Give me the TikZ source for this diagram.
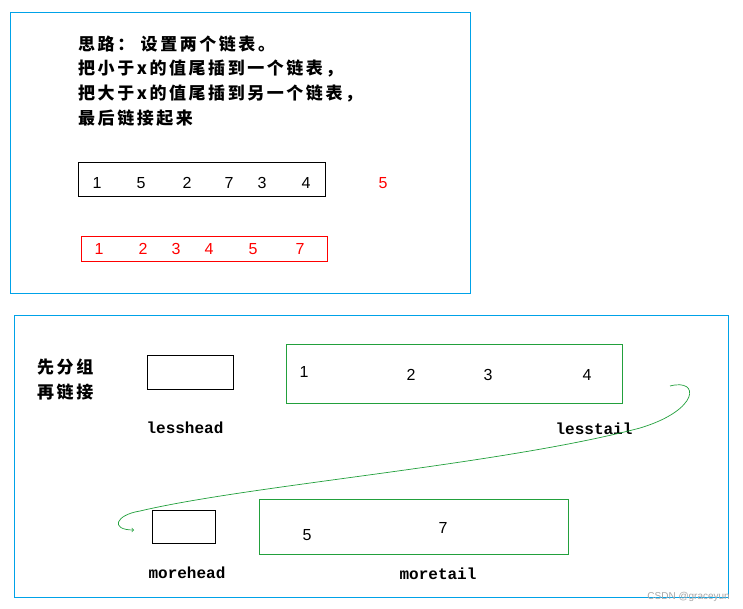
\documentclass[tikz,border=0pt]{standalone}
\usepackage{fontspec}
\setmainfont{Liberation Sans}
\newfontfamily\cjk[LetterSpace=15]{Noto Sans CJK SC}
\newfontfamily\mono{Liberation Mono}
\begin{document}
\begin{tikzpicture}[x=1pt,y=-1pt,
  blu/.style={draw={rgb,255:red,0;green,162;blue,232},line width=0.8pt},
  blk/.style={draw=black,line width=0.7pt},
  grn/.style={draw={rgb,255:red,34;green,160;blue,60},line width=0.7pt},
  cj/.style={font=\cjk\bfseries\fontsize{17}{19}\selectfont,anchor=west,inner sep=0pt},
  num/.style={font=\fontsize{16}{18}\selectfont,inner sep=0pt},
  rnum/.style={num,text=red},
  lbl/.style={font=\mono\bfseries\fontsize{16}{18}\selectfont,inner sep=0pt}]
\useasboundingbox[fill=white] (0,0) rectangle (743,608);
\draw[blu] (10,12) rectangle (470,293);
\node[cj] (t1) at (78,44) {思路：\ 设置两个链表。};
\node[cj] (t2) at (78,69) {把小于x的值尾插到一个链表，};
\node[cj] (t3) at (78,94) {把大于x的值尾插到另一个链表，};
\node[cj] (t4) at (78,118) {最后链接起来};
\draw[blk] (78,162) rectangle (325,196);
\foreach \x/\v [count=\i] in {97/1,141/5,187/2,229/7,262/3,306/4}
  \node[num] (a\i) at (\x,183) {\v};
\node[rnum] (x5) at (383,183) {5};
\draw[draw=red,line width=0.7pt] (81,236) rectangle (327,261);
\foreach \x/\v [count=\i] in {99/1,143/2,176/3,209/4,253/5,300/7}
  \node[rnum] (b\i) at (\x,249) {\v};
\draw[blu] (14,315) rectangle (728,597);
\node[cj] (g1) at (37,367) {先分组};
\node[cj] (g2) at (37,392) {再链接};
\draw[blk] (147,355) rectangle (233,389);
\draw[grn] (286,344) rectangle (622,403);
\node[num] (l1) at (304,372) {1};
\node[num] (l2) at (411,375) {2};
\node[num] (l3) at (488,375) {3};
\node[num] (l4) at (587,375) {4};
\node[lbl] (lh) at (185,428) {lesshead};
\node[lbl] (lt) at (594,429) {lesstail};
\draw[blk] (152,510) rectangle (215,543);
\draw[grn] (259,499) rectangle (568,554);
\node[num] (m1) at (307,535) {5};
\node[num] (m2) at (443,528) {7};
\node[lbl] (mh) at (187,573) {morehead};
\node[lbl] (mt) at (438,574) {moretail};
\coordinate (cs) at (670,386);
\coordinate (cm) at (140,511);
\coordinate (ce) at (134,530);
\draw[grn,->] (cs) .. controls (700,378) and (700,410) .. (640,428)
  .. controls (500,465) and (250,485) .. (cm)
  .. controls (115,515) and (110,530) .. (ce);
\node[font=\fontsize{10}{12}\selectfont,text=gray!70,anchor=east,inner sep=0pt] (wm) at (730,597) {CSDN @graceyun};
\end{tikzpicture}
\end{document}
